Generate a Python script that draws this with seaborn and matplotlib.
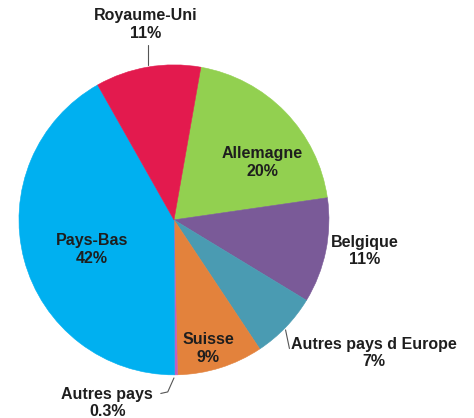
import matplotlib
matplotlib.use("Agg")
import matplotlib.pyplot as plt
import seaborn as sns

# Data (clockwise from top)
pays = ["Allemagne", "Belgique", "Autres pays d Europe", "Suisse",
        "Autres pays", "Pays-Bas", "Royaume-Uni"]
parts = [20, 11, 7, 9, 0.3, 42, 11]
pct_labels = ["20%", "11%", "7%", "9%", "0.3%", "42%", "11%"]
couleurs = ["#92D050", "#7A5A98", "#4A9BB2", "#E3823C",
            "#C060C0", "#00B0F0", "#E31A4E"]

sns.set_theme(style="white")
plt.rcParams["font.family"] = ["Liberation Sans", "DejaVu Sans"]

fig = plt.figure(figsize=(4.74, 4.18), dpi=100)
ax = fig.add_axes([0.040, 0.103, 0.654, 0.742])

wedges, _ = ax.pie(
    parts,
    colors=couleurs,
    startangle=80,
    counterclock=False,
    wedgeprops=dict(linewidth=0),
)
# same colour on the edge to avoid white seams
for w, c in zip(wedges, couleurs):
    w.set_edgecolor(c)
    w.set_linewidth(0.4)

ax.set_xlim(-1, 1)
ax.set_ylim(-1, 1)
ax.axis("off")

# label layout (data units, radius = 1)
pos_labels = {
    "Allemagne": (0.57, 0.37),
    "Belgique": (1.23, -0.20),
    "Autres pays d Europe": (1.29, -0.86),
    "Suisse": (0.22, -0.83),
    "Autres pays": (-0.43, -1.18),
    "Pays-Bas": (-0.53, -0.19),
    "Royaume-Uni": (-0.18, 1.26),
}

for nom, pct in zip(pays, pct_labels):
    x, y = pos_labels[nom]
    ax.text(x, y, f"{nom}\n{pct}", ha="center", va="center",
            fontsize=11.5, fontweight="bold", color="#1E1E1E",
            linespacing=1.2, clip_on=False)

# leader lines
ligne = dict(color="#555555", linewidth=0.8, clip_on=False)
ax.plot([-0.17, -0.17], [1.0, 1.13], **ligne)
ax.plot([0.72, 0.745], [-0.71, -0.83], **ligne)
ax.plot([0.0, -0.04, -0.085], [-1.02, -1.11, -1.12], **ligne)

plt.savefig("out.png", dpi=100)
